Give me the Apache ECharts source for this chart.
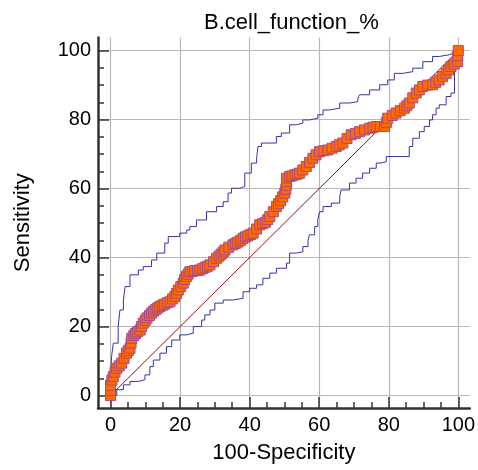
<!DOCTYPE html>
<html>
<head>
<meta charset="utf-8">
<title>ROC</title>
<script src="https://cdn.jsdelivr.net/npm/echarts@6/dist/echarts.min.js"></script>
<style>
html, body { margin: 0; padding: 0; background: #fff; }
#chart { width: 478px; height: 470px; }
</style>
</head>
<body>
<div id="chart"></div>
<script>
// ROC 曲线数据 (100-Specificity, Sensitivity)
const rocPoints = [
    [0, 0], [0, 1.5], [0, 3], [0.4, 4.5], [0.8, 5.5], [1.3, 6.8], [1.8, 7.9], [2.5, 8.6], [3.2, 9.4],
    [3.9, 10.8], [4.6, 12.3], [5.1, 13], [5.6, 13.7], [5.9, 15.2], [6.1, 16.6], [6.7, 17.4], [7.2, 18],
    [7.8, 18.5], [8.5, 19], [8.9, 20], [9.4, 21], [10, 21.8], [10.5, 22.5], [11.2, 23.2], [11.8, 23.9],
    [12.4, 24.5], [13, 25], [13.6, 25.4], [14.2, 25.8], [14.9, 26.2], [15.5, 26.5], [16.3, 26.9],
    [17.1, 27.2], [17.8, 28], [18.5, 28.7], [19, 29.6], [19.5, 30.6], [20.2, 31.6], [20.9, 32.6],
    [21.3, 33.6], [21.8, 34.5], [22.3, 35.2], [22.8, 35.9], [23.5, 36], [24.2, 36.2], [25, 36.3],
    [25.7, 36.4], [26.5, 36.8], [27.2, 37.2], [27.9, 37.5], [28.6, 37.9], [29.6, 38.8], [30.5, 39.8],
    [31.2, 40.4], [31.8, 41], [32.4, 41.6], [32.9, 42.2], [34, 43], [35.2, 43.7], [35.9, 44.1],
    [36.6, 44.5], [37.4, 45], [38.1, 45.6], [38.8, 46], [39.5, 46.3], [40.3, 46.7], [41, 47.1],
    [42, 48.3], [42.9, 49.5], [43.7, 49.8], [44.5, 50.2], [45.2, 51], [45.8, 51.9], [46.8, 53.3],
    [47.7, 54.8], [48.3, 55.6], [48.9, 56.5], [49.5, 57.6], [50.1, 58.7], [50.4, 59.8], [50.6, 61],
    [50.6, 62], [50.6, 63], [51.5, 63.5], [52.2, 63.7], [53, 64], [53.7, 64.2], [54.4, 64.5],
    [55.3, 65.4], [56.3, 66.4], [57.2, 67.6], [58.2, 68.8], [59.1, 69.8], [60.1, 70.7], [61.3, 71],
    [62.5, 71.2], [63.7, 71.7], [64.9, 72.2], [65.8, 72.7], [66.8, 73.2], [68, 74.5], [69.2, 75.6],
    [70.4, 76], [71.6, 76.5], [73, 77], [74.5, 77.5], [75.5, 77.8], [76.4, 78], [77.6, 78], [78.8, 78],
    [79.3, 79.2], [79.7, 80.4], [81, 81.2], [82.1, 81.9], [83.3, 82.6], [84.5, 83.3], [85.2, 84],
    [85.9, 84.8], [86.9, 86.3], [87.9, 87.7], [88.8, 88.6], [89.8, 89.6], [91.2, 90], [92.6, 90.1],
    [93.5, 90.8], [94.5, 91.5], [95.5, 92.5], [96.5, 93.4], [97.2, 94.4], [97.9, 95.4], [98.8, 96.1],
    [99.8, 96.8], [99.8, 98.5], [100, 100]
]
// 置信区间上界
const upperBand = [
    [0, 0], [0, 5.5], [0.3, 11.3], [0.8, 15.2], [2.2, 20], [2.7, 24.8], [3.7, 27.7], [4.2, 31.6],
    [5.6, 35], [8, 36.4], [9.4, 37.4], [11.8, 39.3], [13.3, 41.3], [15.6, 44.2], [16.6, 46.1],
    [19.9, 47.1], [21.9, 48], [22.8, 49], [24.7, 50.9], [27.6, 53.3], [30.5, 54.8], [32.4, 56.2],
    [33.8, 58.7], [34.8, 60.1], [37.2, 60.6], [38.6, 64.5], [40.5, 67.4], [42, 68.8], [42.4, 72.2],
    [43.4, 73.2], [46.7, 73.2], [47.7, 75.1], [49.1, 76.1], [51.5, 78.5], [53.4, 79], [55.3, 79.9],
    [57.2, 80.4], [59.6, 81.4], [61.1, 82.8], [63, 83.3], [65.9, 84.8], [68.7, 85.2], [71.1, 86.2],
    [71.6, 87.2], [74.5, 88.6], [77.4, 90.1], [79.7, 91.5], [81.6, 93.4], [84, 93.9], [86.9, 94.9],
    [89.8, 96.8], [92.6, 98.3], [94.5, 98.8], [97.4, 99.3], [98.9, 100], [100, 100]
]
// 置信区间下界
const lowerBand = [
    [0, 0], [1.8, 0], [3.7, 1.7], [5.6, 3.1], [8, 4.1], [9.9, 4.6], [11.3, 6], [12.3, 8.4],
    [14.2, 10.3], [16.1, 12.3], [17.6, 14.2], [19.9, 16.1], [21.9, 17.6], [23.8, 18.1], [26.2, 20],
    [27.1, 21.9], [28.6, 23.4], [30, 24.8], [32.4, 26.8], [35.2, 27.7], [38.1, 28.2], [40, 30.1],
    [42, 31.1], [43.8, 32.1], [45.8, 34], [47.7, 35.5], [50.6, 36.9], [51.5, 38.4], [53.4, 41.3],
    [55.3, 41.7], [56.8, 43.2], [57.2, 45.1], [58.7, 46.6], [59.6, 49], [60.1, 50.9], [61.1, 53.3],
    [63.5, 54.8], [65.9, 55.8], [66.3, 57.7], [68.7, 59.6], [70.6, 61.6], [72.5, 63], [74.5, 64.5],
    [76.4, 65.9], [77.8, 67.4], [79.3, 67.8], [82.1, 69.3], [85.9, 69.3], [86.9, 72.2], [88.8, 74.6],
    [90.2, 76.5], [91.7, 78], [92.6, 79.9], [93.6, 81.4], [94.5, 83.3], [96.5, 84.3], [97.9, 86.7],
    [98.9, 87.7], [99.3, 95.4], [99.8, 97.3], [100, 100]
]
const diagonal = [[0, 0], [100, 100]]
// 刻度
const majorTicks = [0, 20, 40, 60, 80, 100]
const minorTicks = [0, 5, 10, 15, 20, 25, 30, 35, 40, 45, 50, 55, 60, 65, 70, 75, 80, 85, 90, 95, 100]

const font = "'Liberation Sans', Arial, sans-serif"
const axisColor = '#333'

function mainAxis (min, max, name, gap) {
    return {
        type: 'value', min: min, max: max,
        name: name, nameLocation: 'middle', nameGap: gap,
        nameTextStyle: { color: '#000', fontSize: 22, fontFamily: font },
        axisLine: { show: true, onZero: false, lineStyle: { color: axisColor, width: 2.5 } },
        axisTick: { show: true, inside: true, length: 11, customValues: majorTicks, lineStyle: { color: axisColor, width: 1.5 } },
        axisLabel: { customValues: majorTicks, color: '#000', fontSize: 20, fontFamily: font, margin: 7 },
        splitLine: { show: true, lineStyle: { color: '#b8b8b8', width: 1.2 } }
    }
}
function minorAxis (min, max) { //只画小刻度
    return {
        type: 'value', min: min, max: max,
        axisLine: { show: false, onZero: false },
        axisTick: { show: true, inside: true, length: 6, customValues: minorTicks, lineStyle: { color: axisColor, width: 1.5 } },
        axisLabel: { show: false },
        splitLine: { show: false }
    }
}

const xMain = mainAxis(-3.6, 103.3, '100-Specificity', 34)
xMain.position = 'bottom'
const xMinor = minorAxis(-3.6, 103.3)
xMinor.position = 'bottom'
const yMain = mainAxis(-3.6, 103.8, 'Sensitivity', 64)
yMain.position = 'left'
const yMinor = minorAxis(-3.6, 103.8)
yMinor.position = 'left'

const chart = echarts.init(document.getElementById('chart'), null, { renderer: 'canvas' })
const option = {
    animation: false,
    backgroundColor: '#fff',
    title: {
        text: 'B.cell_function_%',
        left: 199, top: 7,
        textStyle: { color: '#000', fontSize: 22, fontWeight: 'normal', fontFamily: font }
    },
    grid: { left: 98, right: 7.5, top: 37.5, bottom: 62 },
    xAxis: [xMain, xMinor],
    yAxis: [yMain, yMinor],
    series: [
        {
            type: 'line', data: upperBand, step: 'end', symbol: 'none',
            lineStyle: { color: '#3535a5', width: 1 }
        },
        {
            type: 'line', data: lowerBand, step: 'start', symbol: 'none',
            lineStyle: { color: '#3535a5', width: 1 }
        },
        {
            type: 'line', data: diagonal, symbol: 'none',
            lineStyle: { color: '#8b1010', width: 1 }
        },
        {
            type: 'line', data: rocPoints, symbol: 'rect', symbolSize: 10,
            itemStyle: { color: '#ff6a00', borderColor: '#a8488c', borderWidth: 1 },
            lineStyle: { color: '#a8488c', width: 1 }
        }
    ]
}
chart.setOption(option)
</script>
</body>
</html>
